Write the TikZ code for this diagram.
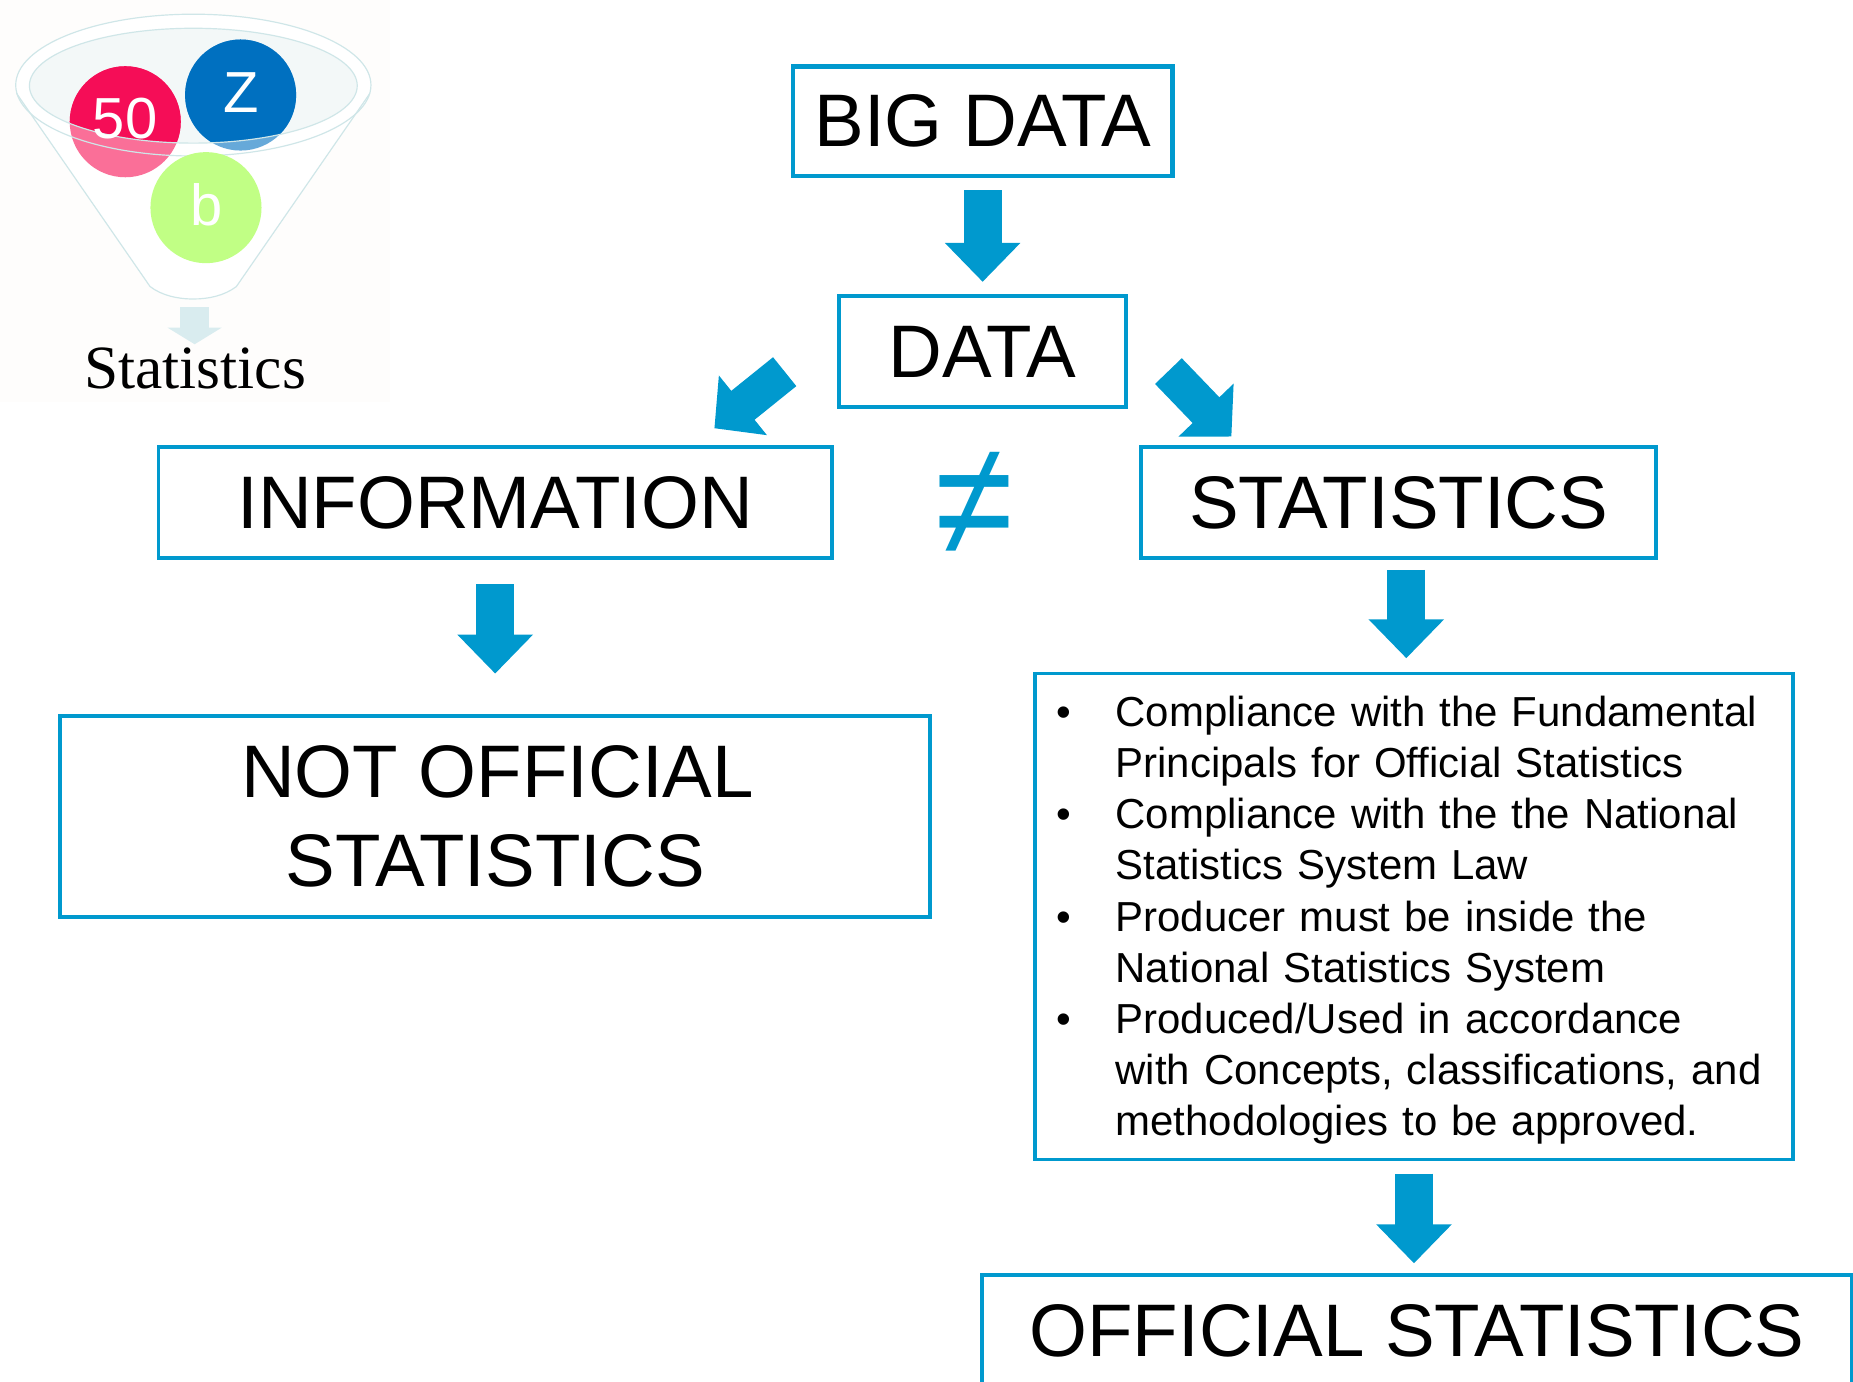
\documentclass[tikz,border=0pt]{standalone}
\usepackage{fontspec}
\setmainfont{Liberation Sans}
\newfontfamily\serifstat{Liberation Serif}
\usetikzlibrary{arrows.meta,calc}
\definecolor{blu}{HTML}{0099CE}
\definecolor{funline}{HTML}{CFE6E8}
\definecolor{funfill}{HTML}{F3F8F8}
\definecolor{pale}{HTML}{D9ECEF}
\definecolor{bgfun}{HTML}{FEFDFC}
\definecolor{redd}{HTML}{F50D57}
\definecolor{redl}{HTML}{FA6F98}
\definecolor{bluD}{HTML}{0070C0}
\definecolor{bluL}{HTML}{66A9D9}
\definecolor{grn}{HTML}{C1FF85}
\newcommand{\fbig}{\fontsize{31.5pt}{37.5pt}\selectfont}
\newcommand{\fbody}{\fontsize{17.75pt}{21.65pt}\selectfont\spaceskip=.278em\relax}
\newcommand{\bitem}{\makebox[34pt][l]{\hspace*{9pt}•}}
\newcommand{\bcont}{\hspace*{34pt}}
\newcommand{\lowr}[1]{\raisebox{-1.2pt}{#1}}
\newcommand{\lowrr}[1]{\raisebox{-1.8pt}{#1}}
\tikzset{
  box/.style={draw=blu,line width=1.5pt,fill=white,inner sep=0pt,outer sep=0pt,align=center,text=black,font=\fbig},
  blockarrow/.style={draw=blu,line width=16pt,-{Triangle[length=16.5pt,width=31pt,fill=blu]},shorten <=6pt,shorten >=6pt},
  diagarrow/.style={draw=blu,line width=15.7pt,-{Triangle[length=15.5pt,width=31.5pt,fill=blu]}},
  ball/.style={circle,minimum size=47pt,inner sep=0pt},
  balltext/.style={text=white,font=\fontsize{24.5pt}{24.5pt}\selectfont,inner sep=0pt}
}
\begin{document}
\begin{tikzpicture}[x=0.5pt,y=-0.5pt]
\useasboundingbox (0,0) rectangle (1568,1169.4);
\clip (0,0) rectangle (1568,1169.4);
% funnel graphic
\fill[bgfun] (0,0) rectangle (330,340);
\fill[white] (163.6,72) ellipse[x radius=150.3,y radius=60];
\draw[funline,line width=.5pt,fill=white] (14,79) -- (127,242.5) .. controls (137,250) and (150,253) .. (163.6,253) .. controls (177,253) and (190,250) .. (200,242.5) -- (313,79);
\fill[funfill] (163.6,72.5) ellipse[x radius=138.7,y radius=48.6];
\fill[redl] (106,103) circle[radius=47];
\fill[bluL] (203.6,80.4) circle[radius=47];
\begin{scope}
\clip (163.6,72.5) ellipse[x radius=138.7,y radius=48.6];
\fill[redd] (106,103) circle[radius=47];
\fill[bluD] (203.6,80.4) circle[radius=47];
\end{scope}
\draw[funline,line width=.5pt] (163.6,72.5) ellipse[x radius=138.7,y radius=48.6];
\draw[funline,line width=.5pt] (163.6,72) ellipse[x radius=150.3,y radius=60];
\node[ball,fill=grn] (bb) at (174.3,175.7) {};
\node[balltext] (n50) at (105.8,100) {50};
\node[balltext] (nz) at (204,78) {Z};
\node[balltext] (nb) at (174.8,173.5) {b};
\node[inner sep=0pt,anchor=base,font=\serifstat\fontsize{26pt}{26pt}\selectfont] (statlabel) at (165,328.5) {Statistics};
\coordinate (funnelout) at (164.7,260);
\coordinate (funneltip) at (164.7,291.3);
\draw[draw=pale,line width=12.5pt,-{Triangle[length=7pt,width=22.5pt,fill=pale]}] (funnelout) -- (funneltip);
% boxes
\node[box,line width=2pt,minimum width=160.5pt,minimum height=46.5pt] (bigdata) at (831.5,102.5) {\lowr{BIG DATA}};
\node[box,minimum width=121.5pt,minimum height=47pt] (data) at (831.5,297.5) {\lowr{DATA}};
\node[box,minimum width=285pt,minimum height=47pt] (info) at (419,425.3) {\lowr{INFORMATION}};
\node[box,minimum width=218pt,minimum height=47pt] (stats) at (1183.5,425.3) {\lowr{STATISTICS}};
\node[box,minimum width=368pt,minimum height=85pt] (notoff) at (419,691) {\hspace*{2pt}\lowrr{NOT OFFICIAL}\\\lowrr{STATISTICS}};
\node[box,font=\fbody,align=left,text width=320.5pt,minimum height=205.5pt] (list) at (1196.5,775.5) {%
\rule{0pt}{16pt}\bitem Compliance with the Fundamental\\
\bcont Principals for Official Statistics\\
\bitem Compliance with the the National\\
\bcont Statistics System Law\\
\bitem Producer must be inside the\\
\bcont National Statistics System\\
\bitem Produced/Used in accordance\\
\bcont with Concepts, classifications, and\\
\bcont methodologies to be approved.};
\node[box,minimum width=368pt,minimum height=94pt,anchor=north west] (official) at (831,1079) {};
\node[inner sep=0pt,font=\fbig] (officialtext) at (1199,1126) {OFFICIAL STATISTICS};
\node[inner sep=0pt,text=blu,font=\fontsize{60pt}{60pt}\selectfont] (neq) at (824.5,426) {\scalebox{1}[1.15]{≠}};
% connectors
\draw[blockarrow] (bigdata.south) -- (data.north);
\draw[blockarrow,shorten <=11pt,shorten >=18pt] (info.south) -- (notoff.north);
\draw[blockarrow,shorten <=5pt,shorten >=6.5pt] ([xshift=3.25pt]stats.south) -- ([xshift=-3.25pt]list.north);
\draw[blockarrow,shorten >=5pt] (list.south) -- (list.south |- official.north);
\coordinate (lstart) at (664,314.5);
\coordinate (ltip) at (604.5,362.4);
\coordinate (rstart) at (988.7,314);
\coordinate (rtip) at (1042,369.4);
\draw[diagarrow] (lstart) -- (ltip);
\draw[diagarrow] (rstart) -- (rtip);
\end{tikzpicture}
\end{document}
